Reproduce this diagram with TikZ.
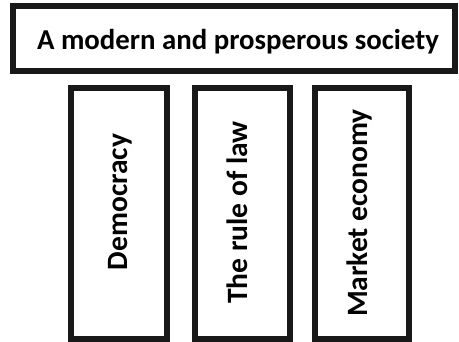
\documentclass[tikz,border=0pt]{standalone}
\usepackage{fontspec}
\setmainfont{Carlito}
\begin{document}
\begin{tikzpicture}[x=1pt,y=-1pt,
  frame/.style={draw=black!90, line width=6pt, fill=white, inner sep=0pt},
  pillartext/.style={rotate=90, anchor=base, inner sep=0pt, font=\fontsize{29.5}{31}\selectfont\bfseries},
  headtext/.style={anchor=base, inner sep=0pt, font=\fontsize{28.8}{30}\selectfont\bfseries}]
  \useasboundingbox (0,0) rectangle (459,342);
  % roof
  \node[frame, minimum width=442pt, minimum height=65pt] (roof) at (234.4,38.5) {};
  \node[headtext] (rooftext) at (238,50) {A modern and prosperous society};
  % pillars
  \node[frame, minimum width=96pt, minimum height=251pt] (p1) at (119,213.5) {};
  \node[frame, minimum width=95pt, minimum height=251pt] (p2) at (242.5,213.5) {};
  \node[frame, minimum width=94pt, minimum height=251pt] (p3) at (362,213.5) {};
  \node[pillartext] (t1) at (127,202) {Democracy};
  \node[pillartext] (t2) at (247,212.5) {The rule of law};
  \node[pillartext] (t3) at (367,213) {Market economy};
\end{tikzpicture}
\end{document}
